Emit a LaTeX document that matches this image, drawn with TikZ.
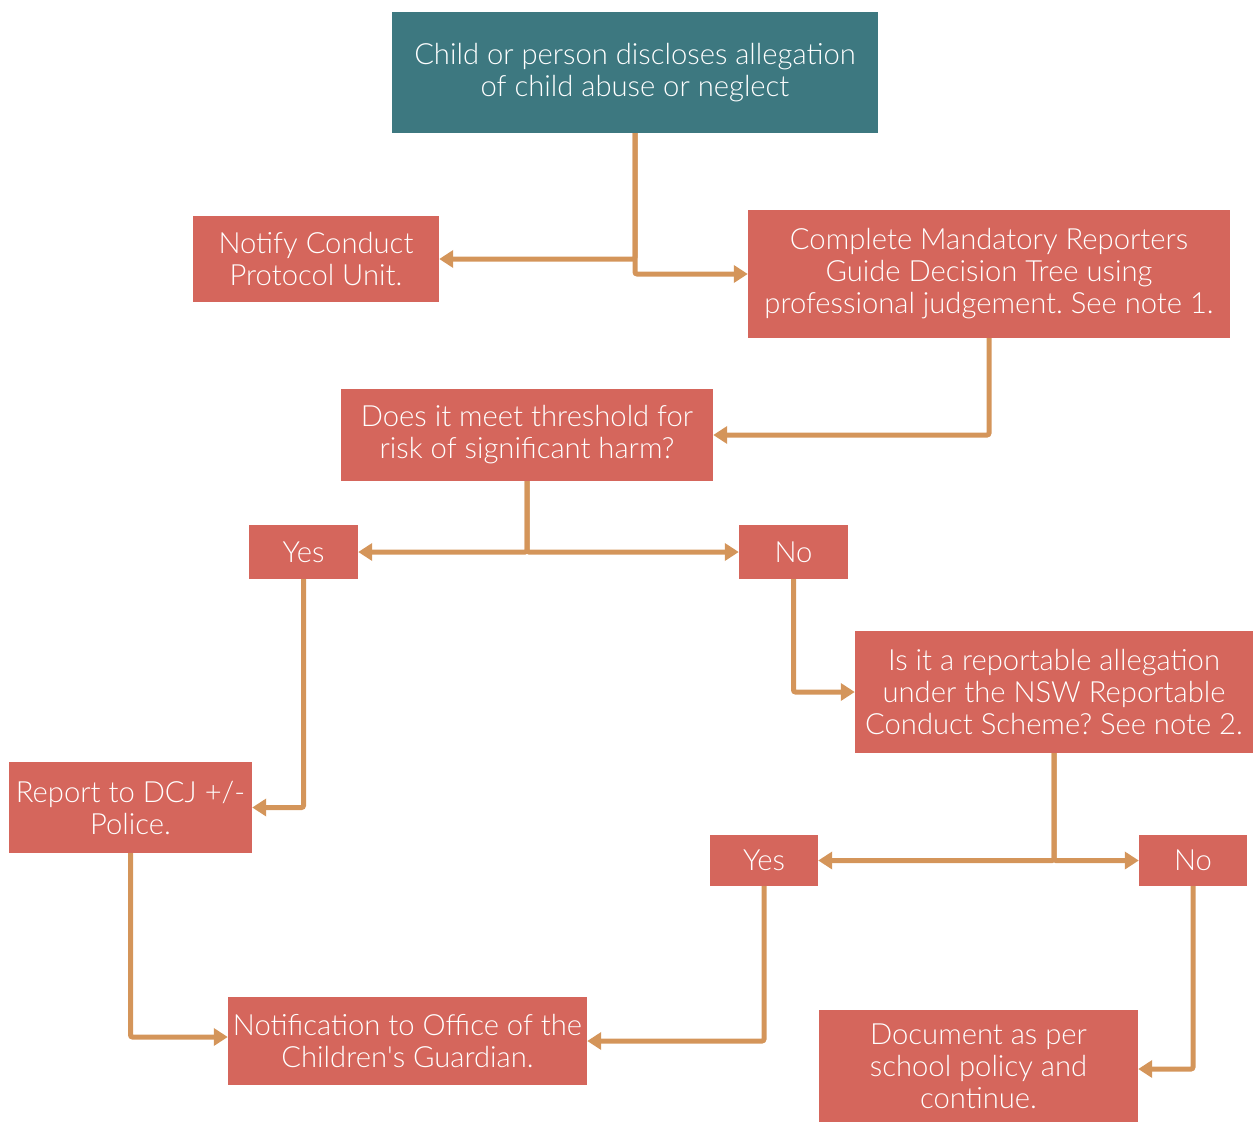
\documentclass[tikz,border=0pt]{standalone}
\usepackage{fontspec}
\setmainfont{Lato-Light.ttf}
\usetikzlibrary{arrows.meta}
\definecolor{teal}{HTML}{3D7880}
\definecolor{boxred}{HTML}{D5665C}
\definecolor{lineor}{HTML}{D4955A}
\begin{document}
\frenchspacing
\begin{tikzpicture}[x=1pt,y=-1pt,
  box/.style={fill=boxred,text=white,align=center,inner sep=0pt,font=\fontsize{29.2}{32}\selectfont},
  arr/.style={draw=lineor,line width=5pt,rounded corners=2pt,-{Triangle[length=14pt,width=17pt]}}]
\useasboundingbox (0,0) rectangle (1254,1124);
\node[box,fill=teal,minimum width=486,minimum height=121] (top) at (635,72.5) {Child or person discloses allegation\\of child abuse or neglect};
\node[box,minimum width=246,minimum height=86] (notify) at (316,259) {Notify Conduct\\Protocol Unit.};
\node[box,minimum width=482,minimum height=128] (complete) at (989,274) {Complete Mandatory Reporters\\Guide Decision Tree using\\professional judgement. See note 1.};
\node[box,minimum width=372,minimum height=92] (does) at (527,435) {Does it meet threshold for\\risk of significant harm?};
\node[box,minimum width=109,minimum height=54] (yes1) at (303.5,552) {Yes};
\node[box,minimum width=109,minimum height=54] (no1) at (793.5,552) {No};
\node[box,minimum width=398,minimum height=122] (isit) at (1054,692) {Is it a reportable allegation\\under the NSW Reportable\\Conduct Scheme? See note 2.};
\node[box,minimum width=243,minimum height=91] (report) at (130.5,807.5) {Report to DCJ +/-\\Police.};
\node[box,minimum width=108,minimum height=51] (yes2) at (764,860.5) {Yes};
\node[box,minimum width=108,minimum height=51] (no2) at (1193,860.5) {No};
\node[box,minimum width=359,minimum height=88] (notif) at (407.5,1041) {Notification to Office of the\\Children\textquotesingle s Guardian.};
\node[box,minimum width=319,minimum height=112] (doc) at (978.5,1066) {Document as per\\school policy and\\continue.};
\draw[arr] (top.south) |- (notify.east);
\draw[arr] (top.south) |- (complete.west);
\draw[arr] (complete.south) |- (does.east);
\draw[arr] (does.south) |- (yes1.east);
\draw[arr] (does.south) |- (no1.west);
\draw[arr] (yes1.south) |- (report.east);
\draw[arr] (no1.south) |- (isit.west);
\draw[arr] (isit.south) |- (yes2.east);
\draw[arr] (isit.south) |- (no2.west);
\draw[arr] (report.south) |- ([yshift=4pt]notif.west);
\draw[arr] (yes2.south) |- (notif.east);
\draw[arr] (no2.south) |- ([yshift=-3pt]doc.east);
\end{tikzpicture}
\end{document}
